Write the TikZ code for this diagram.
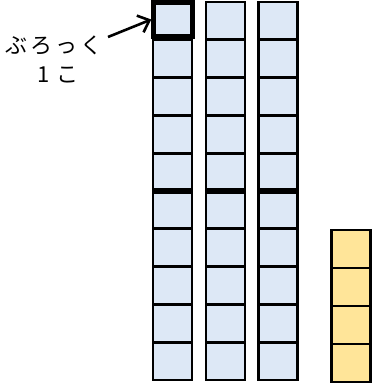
\documentclass[tikz,border=0pt]{standalone}
\usepackage{fontspec}
\newfontfamily\jp{Noto Sans CJK JP}
\usetikzlibrary{arrows.meta}
\definecolor{bluefill}{HTML}{DDE8F6}
\definecolor{yellowfill}{HTML}{FFE599}
\tikzset{
  cell/.style={draw=black, line width=2.8pt, minimum width=39pt, minimum height=37.8pt, inner sep=0pt, outer sep=0pt},
  bluecell/.style={cell, fill=bluefill},
  yellowcell/.style={cell, fill=yellowfill, minimum height=38pt},
  lbl/.style={font=\jp\fontsize{22}{24}\selectfont, inner sep=0pt},
  pointer/.style={-{Straight Barb[length=10pt,width=18pt,line width=2.6pt]}, line width=2.6pt}
}
\begin{document}
\begin{tikzpicture}[x=1pt,y=-1pt]
\useasboundingbox (0,0) rectangle (371,387);
\foreach \c/\x in {1/172.5,2/225.5,3/278}{
  \foreach \r in {1,...,10}{
    \node[bluecell] (c\c-\r) at (\x,{2+37.8*(\r-0.5)}) {};
  }
  \draw[line width=5.5pt] (c\c-5.south west) -- (c\c-5.south east);
}
\foreach \r in {1,...,4}{
  \node[yellowcell] (y\r) at (351,{230+38*(\r-0.5)}) {};
}
\node[draw=black, line width=5pt, minimum width=38.5pt, minimum height=34.5pt, inner sep=0pt] (sel) at (173,19.5) {};
\node[lbl] (t1) at (54,45) {ぶ\hspace{3pt}ろ\hspace{3pt}っ\hspace{3pt}く};
\node[lbl] (t2) at (58,75) {1\hspace{6pt}こ};
\coordinate (tail) at (108,37);
\draw[pointer] (tail) -- (sel.west);
\end{tikzpicture}
\end{document}
